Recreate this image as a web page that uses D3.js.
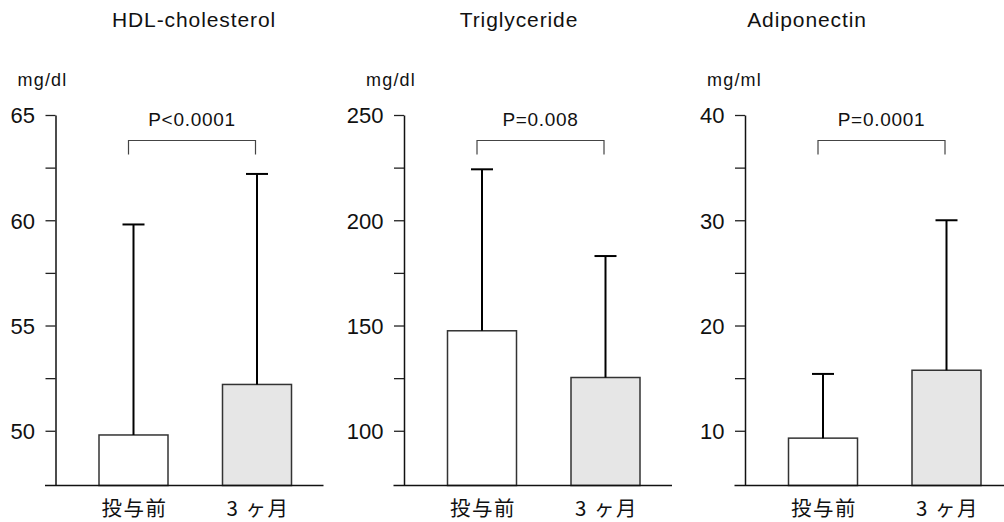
<!DOCTYPE html>
<html lang="ja">
<head>
<meta charset="utf-8">
<title>HDL / TG / Adiponectin</title>
<script src="https://cdn.jsdelivr.net/npm/d3@7"></script>
<style>
  body { margin: 0; background: #fff; }
  svg { display: block; }
  text { font-family: "Liberation Sans", Arial, Helvetica, sans-serif; fill: #111; }
  .title { font-size: 21px; letter-spacing: 0.9px; }
  .unit { font-size: 18px; letter-spacing: 1.2px; }
  .pval { font-size: 19px; letter-spacing: 0.7px; }
  .tick text { font-size: 22px; font-family: "Liberation Sans", Arial, sans-serif; fill: #111; }
  .xlab { font-family: "Noto Sans CJK JP", sans-serif; font-size: 20.5px; letter-spacing: 1.5px; }
</style>
</head>
<body>
<script>
// data
const groups = ["投与前", "3 ヶ月"];
const titles = ["HDL-cholesterol", "Triglyceride", "Adiponectin"];
const units = ["mg/dl", "mg/dl", "mg/ml"];
const means = [[49.8, 52.2], [147.5, 125.3], [9.3, 15.75]];
const upperSD = [[59.8, 62.2], [224.2, 183], [15.4, 30]];
const pLabels = ["P<0.0001", "P=0.008", "P=0.0001"];
const yDomains = [[47.4, 65], [74, 250], [4.8, 40]];
const majorTicks = [[50, 55, 60, 65], [100, 150, 200, 250], [10, 20, 30, 40]];
const minorTicks = [[52.5, 57.5, 62.5], [125, 175, 225], [15, 25, 35]];
const barFills = ["#ffffff", "#e6e6e6"];

// layout
var w = 1004, h = 522;
var axisX = [55.5, 404, 745];
var titleX = [194, 519, 807];
var yTop = 115, yBottom = 485.5;
var barW = 69;

var svg = d3.select("body").append("svg")
  .attr("width", w).attr("height", h);

titles.forEach(function(t, i) {
  var ax = axisX[i];
  var g = svg.append("g");

  var y = d3.scaleLinear().domain(yDomains[i]).range([yBottom, yTop]);
  var x = d3.scalePoint().domain(groups).range([ax + 78, ax + 201.5]);

  // title + unit
  g.append("text").attr("class", "title")
    .attr("x", titleX[i]).attr("y", 27)
    .attr("text-anchor", "middle").text(t);
  g.append("text").attr("class", "unit")
    .attr("x", ax - 38).attr("y", 86)
    .text(units[i]);

  // minor ticks
  g.append("g").attr("transform", "translate(" + ax + ",0)")
    .call(d3.axisLeft(y).tickValues(minorTicks[i]).tickFormat("").tickSize(10).tickSizeOuter(0))
    .call(s => s.select(".domain").remove())
    .selectAll("line").attr("stroke", "#222").attr("stroke-width", 1.3);

  // major ticks + axis line
  var yAx = g.append("g").attr("transform", "translate(" + ax + ",0)")
    .call(d3.axisLeft(y).tickValues(majorTicks[i]).tickSize(10).tickSizeOuter(0).tickPadding(10.5));
  yAx.select(".domain").attr("stroke", "#111").attr("stroke-width", 1.5);
  yAx.selectAll(".tick line").attr("stroke", "#222").attr("stroke-width", 1.3);
  yAx.selectAll(".tick text").attr("dy", "0.36em");

  // bars
  g.selectAll("rect").data(groups).enter().append("rect")
    .attr("x", d => x(d) - barW / 2)
    .attr("y", (d, j) => y(means[i][j]))
    .attr("width", barW)
    .attr("height", (d, j) => y(yDomains[i][0]) - y(means[i][j]))
    .attr("fill", (d, j) => barFills[j])
    .attr("stroke", "#333").attr("stroke-width", 1.5);

  // error bars (upper only)
  g.selectAll(".err").data(groups).enter().append("line").attr("class", "err")
    .attr("x1", d => x(d)).attr("x2", d => x(d))
    .attr("y1", (d, j) => y(means[i][j]))
    .attr("y2", (d, j) => y(upperSD[i][j]))
    .attr("stroke", "#000").attr("stroke-width", 2);
  g.selectAll(".cap").data(groups).enter().append("line").attr("class", "cap")
    .attr("x1", d => x(d) - 11).attr("x2", d => x(d) + 11)
    .attr("y1", (d, j) => y(upperSD[i][j]))
    .attr("y2", (d, j) => y(upperSD[i][j]))
    .attr("stroke", "#000").attr("stroke-width", 2);

  // baseline
  g.append("line")
    .attr("x1", ax - 10.5).attr("x2", ax + 268)
    .attr("y1", yBottom).attr("y2", yBottom)
    .attr("stroke", "#111").attr("stroke-width", 1.5);

  // x labels
  g.selectAll(".xlab").data(groups).enter().append("text").attr("class", "xlab")
    .attr("x", d => x(d) + 1).attr("y", 515.5)
    .attr("text-anchor", "middle").text(d => d);

  // significance bracket
  var bx1 = x(groups[0]) - 5, bx2 = x(groups[1]) - 1.5;
  g.append("path")
    .attr("d", "M" + bx1 + ",154.5V140.5H" + bx2 + "V154.5")
    .attr("fill", "none").attr("stroke", "#444").attr("stroke-width", 1.2);
  g.append("text").attr("class", "pval")
    .attr("x", (bx1 + bx2) / 2).attr("y", 126)
    .attr("text-anchor", "middle").text(pLabels[i]);
});
</script>
</body>
</html>
